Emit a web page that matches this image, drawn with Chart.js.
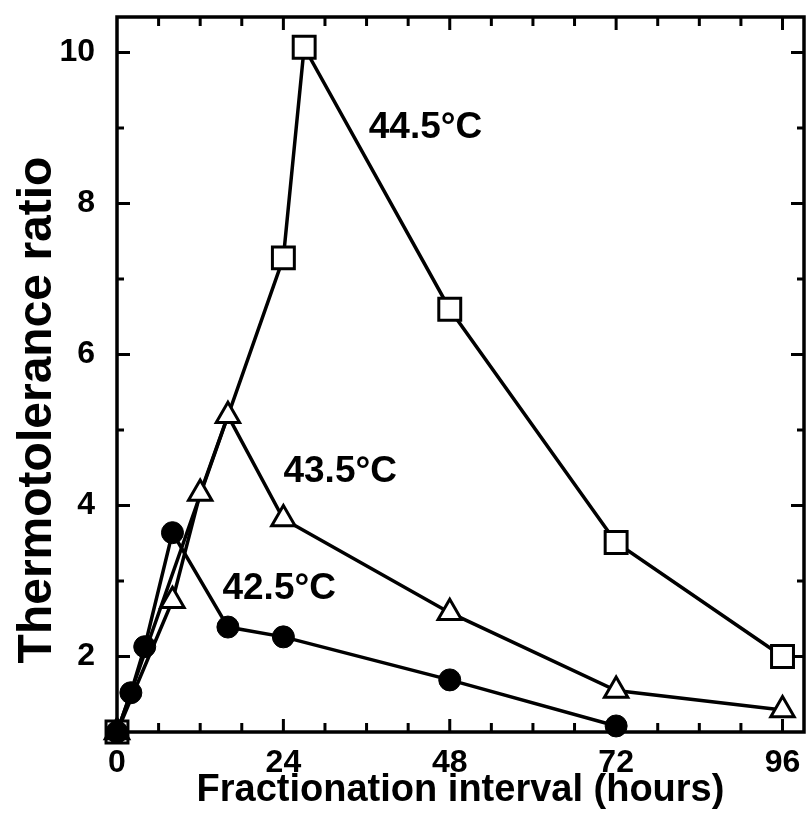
<!DOCTYPE html>
<html lang="en">
<head>
    <meta charset="UTF-8">
    <title>Thermotolerance ratio</title>
    <style>
        body {
            margin: 0;
            padding: 0;
            background: #fff;
        }
        #wrap {
            width: 810px;
            height: 829px;
        }
    </style>
</head>
<body>
    <div id="wrap"><canvas id="chart" width="810" height="829"></canvas></div>

    <script src="https://cdn.jsdelivr.net/npm/chart.js"></script>
    <script>
        // values
        const hours425 = [0, 2, 4, 8, 16, 24, 48, 72];
        const ratio425 = [1, 1.52, 2.13, 3.64, 2.39, 2.26, 1.69, 1.08];

        const hours435 = [0, 8, 12, 16, 24, 48, 72, 96];
        const ratio435 = [1, 2.74, 4.16, 5.19, 3.82, 2.58, 1.55, 1.29];

        const hours445 = [0, 24, 27, 48, 72, 96];
        const ratio445 = [1, 7.28, 10.07, 6.6, 3.51, 2.0];

        const controlHours = [0];
        const controlRatio = [1];

        const xTickLabels = [0, 24, 48, 72, 96];
        const yTickLabels = [2, 4, 6, 8, 10];

        const seriesNames = ['42.5°C', '43.5°C', '44.5°C'];
        // where the series names sit, in data units (hours, ratio)
        const namePlaces = [[23.4, 2.9], [32.2, 4.44], [44.5, 9.0]];

        const toPoints = (xs, ys) => xs.map((x, i) => ({ x: x, y: ys[i] }));

        const frameTicks = {
            id: 'frameTicks',
            beforeDatasetsDraw(chart) {
                const { ctx, chartArea: a, scales: { x, y } } = chart;
                ctx.save();
                ctx.strokeStyle = '#000';
                ctx.lineWidth = 3.5;
                ctx.strokeRect(a.left, a.top, a.right - a.left, a.bottom - a.top);
                ctx.lineWidth = 3;
                ctx.beginPath();
                for (let h = 6; h <= 96; h += 6) {
                    const px = x.getPixelForValue(h);
                    const len = h % 24 === 0 ? 13 : 9;
                    ctx.moveTo(px, a.bottom); ctx.lineTo(px, a.bottom - len);
                    ctx.moveTo(px, a.top); ctx.lineTo(px, a.top + len);
                }
                for (let v = 2; v <= 10; v++) {
                    const py = y.getPixelForValue(v);
                    const len = v % 2 === 0 ? 13 : 7;
                    ctx.moveTo(a.left, py); ctx.lineTo(a.left + len, py);
                    ctx.moveTo(a.right, py); ctx.lineTo(a.right - len, py);
                }
                ctx.stroke();
                ctx.restore();
            },
            afterDraw(chart) {
                const { ctx, scales: { x, y } } = chart;
                ctx.save();
                ctx.fillStyle = '#000';
                ctx.font = 'bold 37px "Liberation Sans", Arial, sans-serif';
                ctx.textAlign = 'center';
                ctx.textBaseline = 'middle';
                seriesNames.forEach((name, i) => {
                    ctx.fillText(name, x.getPixelForValue(namePlaces[i][0]), y.getPixelForValue(namePlaces[i][1]));
                });
                // y axis title
                ctx.translate(38, 410);
                ctx.rotate(-Math.PI / 2);
                ctx.font = 'bold 48px "Liberation Sans", Arial, sans-serif';
                ctx.fillText('Thermotolerance ratio', 0, 0);
                ctx.restore();
            }
        };

        const tickFont = { family: '"Liberation Sans", Arial, sans-serif', size: 32, weight: 'bold' };

        new Chart(document.getElementById('chart'), {
            type: 'line',
            data: {
                datasets: [
                    {
                        label: seriesNames[0],
                        data: toPoints(hours425, ratio425),
                        borderColor: '#000',
                        borderWidth: 3.5,
                        pointStyle: 'circle',
                        pointRadius: 11,
                        pointBackgroundColor: '#000',
                        pointBorderColor: '#000',
                        pointBorderWidth: 1,
                        clip: false
                    },
                    {
                        label: seriesNames[1],
                        data: toPoints(hours435, ratio435),
                        borderColor: '#000',
                        borderWidth: 3.5,
                        pointStyle: 'triangle',
                        pointRadius: 13.5,
                        pointBackgroundColor: '#fff',
                        pointBorderColor: '#000',
                        pointBorderWidth: 3,
                        clip: false
                    },
                    {
                        label: seriesNames[2],
                        data: toPoints(hours445, ratio445),
                        borderColor: '#000',
                        borderWidth: 3.5,
                        pointStyle: 'rect',
                        pointRadius: 15.5,
                        pointBackgroundColor: '#fff',
                        pointBorderColor: '#000',
                        pointBorderWidth: 3,
                        clip: false
                    },
                    {
                        label: 'control',
                        data: toPoints(controlHours, controlRatio),
                        showLine: false,
                        pointStyle: 'rect',
                        pointRadius: 16,
                        pointBackgroundColor: '#000',
                        pointBorderColor: '#000',
                        clip: false
                    }
                ]
            },
            options: {
                responsive: false,
                animation: false,
                layout: { autoPadding: false, padding: { left: 0, right: 6, top: 17, bottom: 0 } },
                plugins: {
                    legend: { display: false },
                    tooltip: { enabled: false }
                },
                scales: {
                    x: {
                        type: 'linear',
                        min: 0,
                        max: 99.1,
                        afterBuildTicks: s => { s.ticks = xTickLabels.map(v => ({ value: v })); },
                        afterFit: s => { s.height = 97; s.paddingLeft = 0; s.paddingRight = 0; },
                        grid: { display: false, drawTicks: false },
                        border: { display: false },
                        ticks: { color: '#000', font: tickFont, padding: 12, maxRotation: 0 },
                        title: {
                            display: true,
                            text: 'Fractionation interval (hours)',
                            color: '#000',
                            font: { family: '"Liberation Sans", Arial, sans-serif', size: 38, weight: 'bold' },
                            padding: { top: 0, bottom: 16 }
                        }
                    },
                    y: {
                        type: 'linear',
                        min: 1,
                        max: 10.47,
                        afterBuildTicks: s => { s.ticks = yTickLabels.map(v => ({ value: v })); },
                        afterFit: s => { s.width = 117; s.paddingTop = 0; s.paddingBottom = 0; },
                        grid: { display: false, drawTicks: false },
                        border: { display: false },
                        ticks: { color: '#000', font: tickFont, padding: 22 }
                    }
                }
            },
            plugins: [frameTicks]
        });
    </script>
</body>
</html>
